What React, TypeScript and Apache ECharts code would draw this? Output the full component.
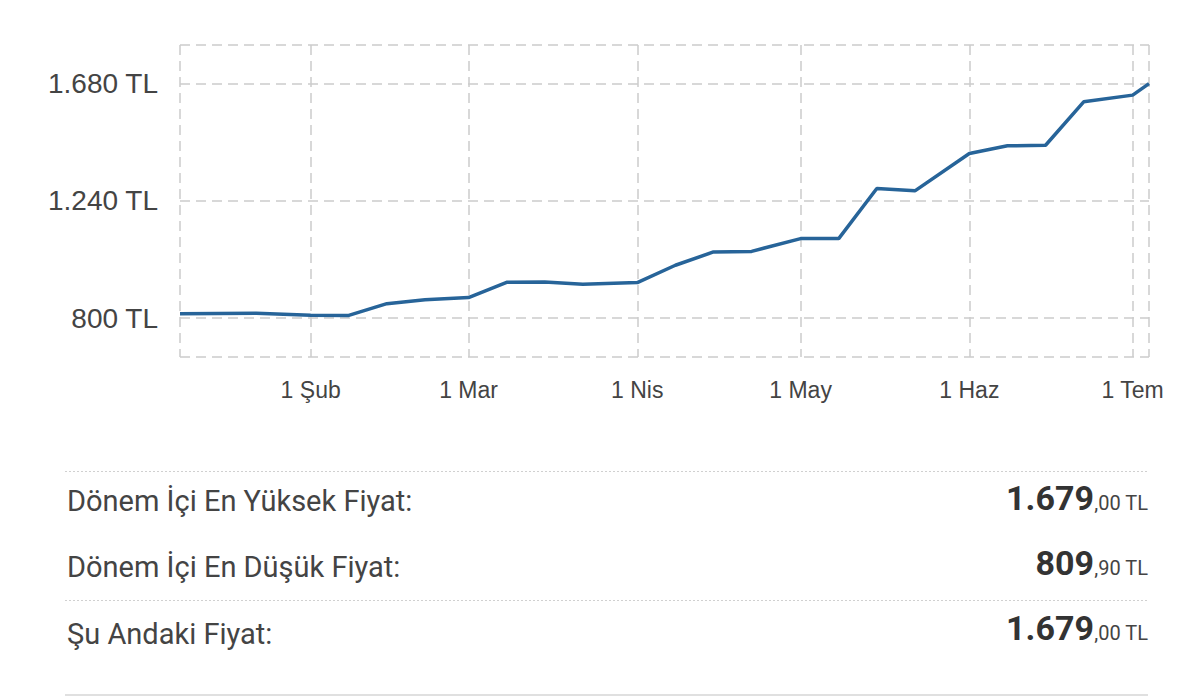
import React, { useEffect, useRef } from "react";
import * as echarts from "echarts";

// ---- data ----
const DATES = [
  "2024-01-08", "2024-01-22", "2024-02-01", "2024-02-08", "2024-02-15", "2024-02-22",
  "2024-03-01", "2024-03-08", "2024-03-15", "2024-03-22", "2024-04-01", "2024-04-08",
  "2024-04-15", "2024-04-22", "2024-05-01", "2024-05-08", "2024-05-15", "2024-05-22",
  "2024-06-01", "2024-06-08", "2024-06-15", "2024-06-22", "2024-07-01", "2024-07-04",
];
const PRICES = [
  816, 818, 811, 809.9, 854, 869,
  877, 934, 935, 927, 933, 998,
  1048, 1050, 1098, 1098, 1286, 1277,
  1417, 1446, 1448, 1611, 1636, 1679,
];
const Y_MIN = 654;
const Y_MAX = 1824;
const Y_LABEL_VALUES = [800, 1240, 1680];
const X_LABEL_DATES = ["2024-02-01", "2024-03-01", "2024-04-01", "2024-05-01", "2024-06-01", "2024-07-01"];
const MONTHS_TR = ["Oca", "Şub", "Mar", "Nis", "May", "Haz", "Tem", "Ağu", "Eyl", "Eki", "Kas", "Ara"];
const SUMMARY_LABELS = ["Dönem İçi En Yüksek Fiyat:", "Dönem İçi En Düşük Fiyat:", "Şu Andaki Fiyat:"];

const ts = (s: string) => {
  const [y, m, d] = s.split("-").map(Number);
  return new Date(y, m - 1, d).getTime();
};
const thousands = (n: number) => String(Math.floor(n)).replace(/\B(?=(\d{3})+(?!\d))/g, ".");
const decimals = (n: number) => "," + Math.round((n - Math.floor(n)) * 100).toString().padStart(2, "0") + " TL";

export default function App() {
  const ref = useRef<HTMLDivElement>(null);
  useEffect(() => {
    if (!ref.current) return;
    const chart = echarts.init(ref.current, null, { renderer: "svg" });
    const xMin = ts(DATES[0]);
    const xMax = ts(DATES[DATES.length - 1]);
    const xLabelTs = X_LABEL_DATES.map(ts);
    const summaryValues = [
      Math.max(...PRICES),
      Math.min(...PRICES),
      PRICES[PRICES.length - 1],
    ];
    const rowCenters = [501, 567, 633.5];
    const valueCenters = [504, 569, 634];
    const dash = { type: [10, 6] as any, color: "#cccccc", width: 1.5 };

    const graphic: any[] = [
      { type: "line", shape: { x1: 65, y1: 471.5, x2: 1148, y2: 471.5 }, style: { stroke: "#d0d0d0", lineWidth: 1.2, lineDash: [2, 2] } },
      { type: "line", shape: { x1: 65, y1: 600.5, x2: 1148, y2: 600.5 }, style: { stroke: "#d0d0d0", lineWidth: 1.2, lineDash: [2, 2] } },
      { type: "line", shape: { x1: 65, y1: 695, x2: 1148, y2: 695 }, style: { stroke: "#e0e0e0", lineWidth: 2 } },
    ];
    SUMMARY_LABELS.forEach((label, i) => {
      graphic.push({
        type: "text",
        x: 67,
        y: rowCenters[i],
        style: { text: label, font: "29px Roboto", fill: "#444", align: "left", verticalAlign: "middle" },
      });
      graphic.push({
        type: "text",
        x: 1148,
        y: valueCenters[i] + 11,
        style: {
          text: "{a|" + thousands(summaryValues[i]) + "}{b|" + decimals(summaryValues[i]) + "}",
          align: "right",
          verticalAlign: "bottom",
          rich: {
            a: { fontFamily: "Roboto", fontSize: 34, fontWeight: "bold", fill: "#333", verticalAlign: "bottom", lineHeight: 34 },
            b: { fontFamily: "Roboto", fontSize: 20, fill: "#444", verticalAlign: "bottom", lineHeight: 34, padding: [0, 0, 2, 0] },
          },
        },
      });
    });

    chart.setOption({
      animation: false,
      grid: { left: 180, right: 51, top: 45, bottom: 339, containLabel: false },
      xAxis: {
        type: "value",
        min: xMin,
        max: xMax,
        axisLine: { show: false },
        axisTick: { show: false, customValues: [xMin, ...xLabelTs, xMax] },
        splitLine: { show: true, lineStyle: dash, showMinLine: true, showMaxLine: true },
        axisLabel: {
          customValues: xLabelTs,
          formatter: (v: number) => {
            const d = new Date(v);
            return d.getDate() + " " + MONTHS_TR[d.getMonth()];
          },
          fontFamily: "Liberation Sans",
          fontSize: 23,
          color: "#444",
          margin: 21,
          hideOverlap: false,
        },
      },
      yAxis: {
        type: "value",
        min: Y_MIN,
        max: Y_MAX,
        axisLine: { show: false },
        axisTick: { show: false, customValues: [Y_MIN, ...Y_LABEL_VALUES, Y_MAX] },
        splitLine: { show: true, lineStyle: dash, showMinLine: true, showMaxLine: true },
        axisLabel: {
          customValues: Y_LABEL_VALUES,
          formatter: (v: number) => thousands(v) + " TL",
          fontFamily: "Liberation Sans",
          fontSize: 28,
          color: "#444",
          margin: 22,
        },
      },
      series: [
        {
          type: "line",
          data: DATES.map((d, i) => [ts(d), PRICES[i]]),
          symbol: "none",
          lineStyle: { color: "#276499", width: 3.5 },
          itemStyle: { color: "#276499" },
        },
      ],
      graphic,
    });
    return () => chart.dispose();
  }, []);
  return (
    <div
      ref={ref}
      style={{ position: "fixed", left: 0, top: 0, width: 1200, height: 696, background: "#fff" }}
    />
  );
}
